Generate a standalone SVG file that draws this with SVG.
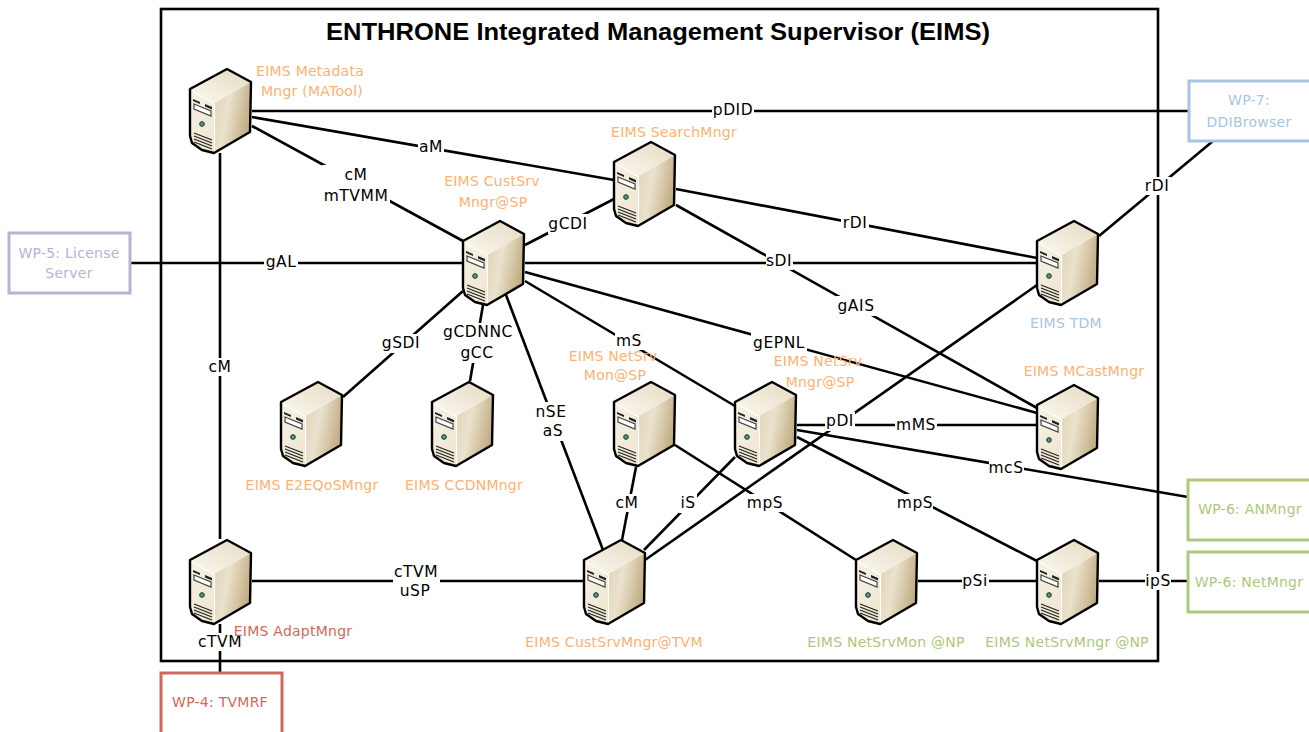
<svg xmlns="http://www.w3.org/2000/svg" width="1309" height="732" viewBox="0 0 1309 732">
<style>
.c line{stroke:#000;stroke-width:2.6;fill:none}
.frame{fill:none;stroke:#000;stroke-width:2.6}
.box{fill:#fff;stroke-width:3}
text{font-family:"DejaVu Sans","Liberation Sans",sans-serif}
.l{font-size:15.5px;fill:#000;text-anchor:middle;letter-spacing:.55px}
.n{font-size:14px;text-anchor:middle;letter-spacing:.25px}
.o{fill:#fbb273}.g{fill:#aec77c}.r{fill:#d0695b}.p{fill:#bfb0d2}.b{fill:#a9c4e0}
.lb{fill:#fff}
</style>
<defs>
<linearGradient id="side" x1="0" y1="0" x2="1" y2="0.35"><stop offset="0" stop-color="#dfd2b4"/><stop offset="0.45" stop-color="#ebe2cd"/><stop offset="1" stop-color="#c2ae85"/></linearGradient>
<linearGradient id="front" x1="0" y1="0" x2="0.6" y2="1"><stop offset="0" stop-color="#f7f2e6"/><stop offset="1" stop-color="#efe7d2"/></linearGradient>
<linearGradient id="top" x1="0" y1="1" x2="1" y2="0"><stop offset="0" stop-color="#fbf8f0"/><stop offset="1" stop-color="#e5dbc2"/></linearGradient>
<g id="server">
<path d="M0,21 L37,1 L61,14 L24.500,35 Z" fill="url(#top)"/>
<path d="M24.500,35 L61,14 L60,64 L24,85 Z" fill="url(#side)"/>
<path d="M0,21 L24.500,35 L24,85 L12,82 L2,76 L0,68 Z" fill="url(#front)"/>
<path d="M2,23 L24.500,36 L24.500,84" fill="none" stroke="#fff" stroke-width="1.2"/>
<path d="M0,21 L37,1 L61,14 L60,64 L24,85 L12,82 L2,75 L0,68 Z" fill="none" stroke="#000" stroke-width="2.4" stroke-linejoin="round"/>
<path d="M3,31 L10,34 L10,36 L3,33 Z M15,36 L22,39 L22,41.500 L15,38.500 Z" fill="#222"/>
<path d="M4,36 L21,43 L21,48 L4,41 Z" fill="#fff" stroke="#444" stroke-width="1.200"/>
<circle cx="12" cy="56" r="2.300" fill="#3aa79c" stroke="#222" stroke-width="1"/>
<path d="M4,65 L22,72 M4,68 L22,75 M4,71 L22,78 M4,74 L22,81" stroke="#222" stroke-width="1.200" fill="none"/>
</g>
</defs>
<rect width="1309" height="732" fill="#fff"/>
<rect class="frame" x="161" y="9" width="997" height="652"/>
<text x="658" y="40" font-size="24" font-weight="bold" text-anchor="middle" textLength="664" lengthAdjust="spacingAndGlyphs" style="font-family:'Liberation Sans',sans-serif">ENTHRONE Integrated Management Supervisor (EIMS)</text>

<g id="connectors" class="c">
<line x1="252" y1="111" x2="1188" y2="111"/>
<line x1="252" y1="117" x2="614" y2="180"/>
<line x1="252" y1="126" x2="463" y2="241"/>
<line x1="220" y1="153" x2="220" y2="539"/>
<line x1="131" y1="263" x2="463" y2="263"/>
<line x1="525" y1="245" x2="614" y2="199"/>
<line x1="676" y1="189" x2="1037" y2="258"/>
<line x1="525" y1="263" x2="1037" y2="263"/>
<line x1="676" y1="205" x2="1037" y2="408"/>
<line x1="525" y1="272" x2="1037" y2="413"/>
<line x1="525" y1="281" x2="735" y2="406"/>
<line x1="506" y1="295" x2="603" y2="550"/>
<line x1="483" y1="305" x2="470" y2="381"/>
<line x1="463" y1="291" x2="343" y2="397"/>
<line x1="675" y1="445" x2="856" y2="560"/>
<line x1="636" y1="467" x2="622" y2="540"/>
<line x1="735" y1="457" x2="644" y2="550"/>
<line x1="1037" y1="285" x2="645" y2="560"/>
<line x1="797" y1="425" x2="1037" y2="425"/>
<line x1="797" y1="430" x2="1188" y2="497"/>
<line x1="797" y1="437" x2="1037" y2="561"/>
<line x1="252" y1="581" x2="584" y2="581"/>
<line x1="918" y1="581" x2="1037" y2="581"/>
<line x1="1099" y1="581" x2="1188" y2="581"/>
<line x1="220" y1="624" x2="220" y2="673"/>
<line x1="1099" y1="236" x2="1213" y2="141"/>
</g>

<g id="connector-labels">
<rect class="lb" x="712" y="101" width="42" height="18"/><text class="l" x="733" y="115">pDID</text>
<rect class="lb" x="418" y="138" width="26" height="18"/><text class="l" x="431" y="152">aM</text>
<rect class="lb" x="322" y="165" width="68" height="40"/><text class="l" x="356" y="180">cM</text><text class="l" x="356" y="201">mTVMM</text>
<rect class="lb" x="207" y="358" width="26" height="18"/><text class="l" x="220" y="372">cM</text>
<rect class="lb" x="264" y="253" width="34" height="18"/><text class="l" x="281" y="267">gAL</text>
<rect class="lb" x="548" y="214" width="41" height="20"/><text class="l" x="568" y="229">gCDI</text>
<rect class="lb" x="841" y="214" width="28" height="18"/><text class="l" x="855" y="228">rDI</text>
<rect class="lb" x="766" y="252" width="27" height="18"/><text class="l" x="779" y="266">sDI</text>
<rect class="lb" x="836" y="296" width="40" height="20"/><text class="l" x="856" y="311">gAIS</text>
<rect class="lb" x="751" y="333" width="56" height="20"/><text class="l" x="779" y="348">gEPNL</text>
<rect class="lb" x="615" y="332" width="28" height="18"/><text class="l" x="629" y="346">mS</text>
<rect class="lb" x="534" y="402" width="35" height="39"/><text class="l" x="551" y="417">nSE</text><text class="l" x="553" y="436">aS</text>
<rect class="lb" x="441" y="323" width="74" height="40"/><text class="l" x="478" y="337">gCDNNC</text><text class="l" x="477" y="358">gCC</text>
<rect class="lb" x="382" y="334" width="38" height="19"/><text class="l" x="401" y="348">gSDI</text>
<rect class="lb" x="747" y="494" width="36" height="18"/><text class="l" x="765" y="508">mpS</text>
<rect class="lb" x="615" y="494" width="24" height="18"/><text class="l" x="627" y="508">cM</text>
<rect class="lb" x="679" y="494" width="18" height="19"/><text class="l" x="688" y="508">iS</text>
<rect class="lb" x="825" y="412" width="30" height="19"/><text class="l" x="840" y="426">pDI</text>
<rect class="lb" x="895" y="416" width="42" height="18"/><text class="l" x="916" y="430">mMS</text>
<rect class="lb" x="989" y="459" width="35" height="18"/><text class="l" x="1006" y="473">mcS</text>
<rect class="lb" x="897" y="494" width="36" height="18"/><text class="l" x="915" y="508">mpS</text>
<rect class="lb" x="393" y="562" width="47" height="39"/><text class="l" x="416" y="577">cTVM</text><text class="l" x="415" y="596">uSP</text>
<rect class="lb" x="962" y="572" width="27" height="18"/><text class="l" x="975" y="586">pSi</text>
<rect class="lb" x="1145" y="572" width="26" height="18"/><text class="l" x="1158" y="586">ipS</text>
<rect class="lb" x="197" y="633" width="46" height="18"/><text class="l" x="220" y="647">cTVM</text>
<rect class="lb" x="1145" y="177" width="26" height="18"/><text class="l" x="1157" y="191">rDI</text>
</g>

<g id="eims-metadata"><use href="#server" x="190" y="68"/><text class="n o" x="310" y="76">EIMS Metadata</text><text class="n o" x="312" y="96">Mngr (MATool)</text></g>
<g id="eims-search"><use href="#server" x="614" y="141"/><text class="n o" x="674" y="137">EIMS SearchMngr</text></g>
<g id="eims-custsrv-sp"><use href="#server" x="463" y="220"/><text class="n o" x="492" y="186">EIMS CustSrv</text><text class="n o" x="493" y="207">Mngr@SP</text></g>
<g id="eims-tdm"><use href="#server" x="1037" y="220"/><text class="n b" x="1066" y="328">EIMS TDM</text></g>
<g id="eims-e2e"><use href="#server" x="281" y="381"/><text class="n o" x="312" y="490">EIMS E2EQoSMngr</text></g>
<g id="eims-ccdn"><use href="#server" x="432" y="381"/><text class="n o" x="464" y="490">EIMS CCDNMngr</text></g>
<g id="eims-netmon-sp"><use href="#server" x="614" y="381"/><text class="n o" x="613" y="361">EIMS NetSrv</text><text class="n o" x="615" y="380">Mon@SP</text></g>
<g id="eims-netmngr-sp"><use href="#server" x="735" y="381"/><text class="n o" x="818" y="366">EIMS NetSrv</text><text class="n o" x="820" y="387">Mngr@SP</text></g>
<g id="eims-mcast"><use href="#server" x="1037" y="384"/><text class="n o" x="1084" y="376">EIMS MCastMngr</text></g>
<g id="eims-adapt"><use href="#server" x="190" y="539"/><text class="n r" x="293" y="636">EIMS AdaptMngr</text></g>
<g id="eims-custsrv-tvm"><use href="#server" x="584" y="539"/><text class="n o" x="614" y="647">EIMS CustSrvMngr@TVM</text></g>
<g id="eims-netmon-np"><use href="#server" x="856" y="539"/><text class="n g" x="886" y="647">EIMS NetSrvMon @NP</text></g>
<g id="eims-netmngr-np"><use href="#server" x="1037" y="539"/><text class="n g" x="1067" y="647">EIMS NetSrvMngr @NP</text></g>

<g id="wp7"><rect class="box" x="1189" y="81" width="122" height="60" stroke="#a9c4e0"/><text class="n b" x="1249" y="105">WP-7:</text><text class="n b" x="1249" y="127">DDIBrowser</text></g>
<g id="wp5"><rect class="box" x="9" y="233" width="121" height="60" stroke="#bfb0d2"/><text class="n p" x="69" y="258">WP-5: License</text><text class="n p" x="69" y="278">Server</text></g>
<g id="wp6-an"><rect class="box" x="1188" y="480" width="123" height="60" stroke="#aec77c"/><text class="n g" x="1250" y="514">WP-6: ANMngr</text></g>
<g id="wp6-net"><rect class="box" x="1188" y="552" width="123" height="60" stroke="#aec77c"/><text class="n g" x="1249" y="587">WP-6: NetMngr</text></g>
<g id="wp4"><rect class="box" x="161" y="673" width="121" height="62" stroke="#d0695b"/><text class="n r" x="220" y="707">WP-4: TVMRF</text></g>
</svg>
